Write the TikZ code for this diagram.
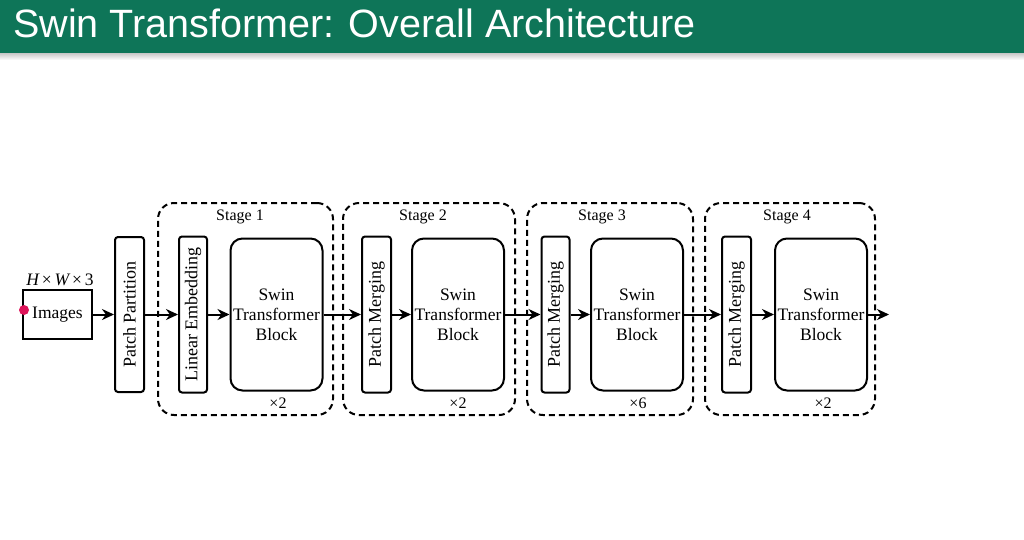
\documentclass[tikz,border=0pt]{standalone}
\usepackage{fontspec}
\setmainfont{Liberation Serif}
\newfontfamily\titlefont{Liberation Sans}
\usetikzlibrary{arrows.meta}
\definecolor{hdr}{RGB}{14,117,88}
\definecolor{dotc}{RGB}{222,20,90}
\newcommand{\vtxt}{\fontsize{18}{20}\selectfont}
\begin{document}
\begin{tikzpicture}[x=1pt,y=-1pt,
  box/.style={draw,line width=2pt,inner sep=0pt,font=\fontsize{17.5}{20}\selectfont,align=center},
  rbox/.style={box,rounded corners=3pt},
  swin/.style={box,rounded corners=12pt,minimum width=92pt,minimum height=152pt},
  stagebox/.style={draw,line width=2pt,dash pattern=on 6pt off 4pt,rounded corners=16pt,minimum height=212pt,inner sep=0pt},
  lab/.style={font=\fontsize{16}{18}\selectfont},
  conn/.style={line width=2pt,-{Stealth[length=12pt,width=11pt]}}]
\useasboundingbox (0,0) rectangle (1024,539);
\fill[white] (0,0) rectangle (1024,539);
\shade[top color=black!25,bottom color=white] (0,52) rectangle (1024,60);
\fill[hdr] (0,0) rectangle (1024,53);
\node[anchor=west,text=white,font=\titlefont\fontsize{39.5}{44}\selectfont,inner sep=0pt] (title) at (13,23.5) {Swin Transformer: Overall Architecture};
% stage boxes
\node[stagebox,minimum width=175pt] (s1) at (245.5,309) {};
\node[stagebox,minimum width=172pt] (s2) at (429,309) {};
\node[stagebox,minimum width=166pt] (s3) at (610,309) {};
\node[stagebox,minimum width=170pt] (s4) at (790,309) {};
\node[lab] (s1l) at (240,217) {Stage 1};
\node[lab] (s2l) at (423,217) {Stage 2};
\node[lab] (s3l) at (602,217) {Stage 3};
\node[lab] (s4l) at (787,217) {Stage 4};
% input
\node[box,minimum width=69pt,minimum height=49pt] (img) at (57.5,314.5) {Images};
\node[lab,font=\fontsize{17.5}{20}\selectfont] (hw) at (60,280) {\itshape H\upshape\,×\,\itshape W\upshape\,×\,3};
\fill[dotc] (24,310) circle (5pt);
% boxes
\node[rbox,minimum width=29pt,minimum height=155pt] (pp) at (129.5,314.5) {\rotatebox{90}{\vtxt Patch Partition}};
\node[rbox,minimum width=28pt,minimum height=156pt] (le) at (193,314.5) {\rotatebox{90}{\vtxt Linear Embedding}};
\node[swin] (sw1) at (276.5,314.5) {Swin\\Transformer\\Block};
\node[rbox,minimum width=29pt,minimum height=156pt] (pm2) at (376.5,314.5) {\rotatebox{90}{\vtxt Patch Merging}};
\node[swin] (sw2) at (458,314.5) {Swin\\Transformer\\Block};
\node[rbox,minimum width=28pt,minimum height=156pt] (pm3) at (555.5,314.5) {\rotatebox{90}{\vtxt Patch Merging}};
\node[swin] (sw3) at (637,314.5) {Swin\\Transformer\\Block};
\node[rbox,minimum width=29pt,minimum height=156pt] (pm4) at (736.5,314.5) {\rotatebox{90}{\vtxt Patch Merging}};
\node[swin] (sw4) at (821,314.5) {Swin\\Transformer\\Block};
\node[lab] (x1) at (278,403) {×2};
\node[lab] (x2) at (458,403) {×2};
\node[lab] (x3) at (638,403) {×6};
\node[lab] (x4) at (823,403) {×2};
\coordinate (out) at (889,314.5);
% connectors
\draw[conn] (img) -- (pp);
\draw[conn] (pp) -- (le);
\draw[conn] (le) -- (sw1);
\draw[conn] (sw1) -- (pm2);
\draw[conn] (pm2) -- (sw2);
\draw[conn] (sw2) -- (pm3);
\draw[conn] (pm3) -- (sw3);
\draw[conn] (sw3) -- (pm4);
\draw[conn] (pm4) -- (sw4);
\draw[conn] (sw4) -- (out);
\end{tikzpicture}
\end{document}
